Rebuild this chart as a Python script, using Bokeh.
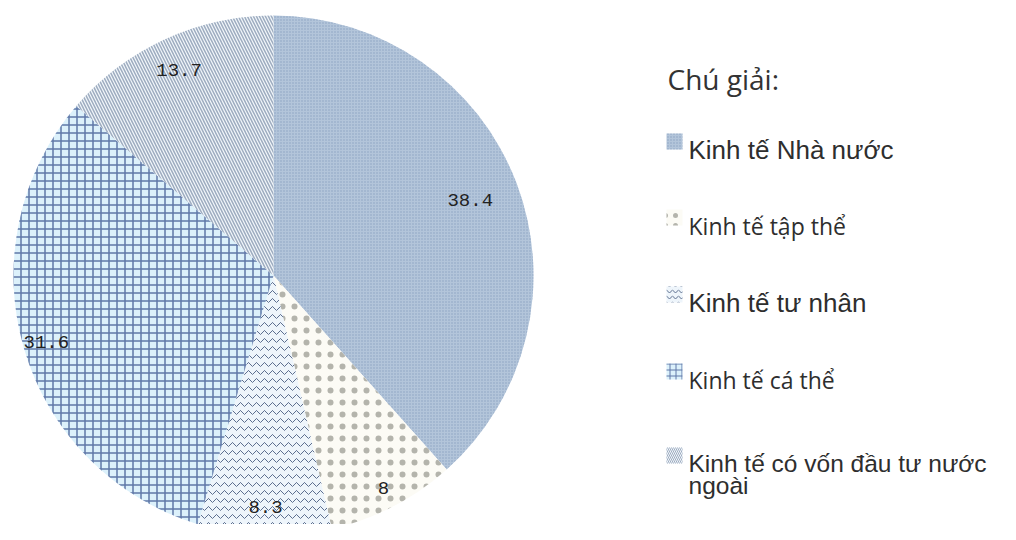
import math
from bokeh.plotting import figure
from bokeh.models import Range1d
from bokeh.core.properties import value
from bokeh.embed import file_html
from bokeh.resources import INLINE

# ---- data ----
categories = ["Kinh tế Nhà nước", "Kinh tế tập thể", "Kinh tế tư nhân",
              "Kinh tế cá thể", "Kinh tế có vốn  đầu tư nước ngoài"]
shares = [38.4, 8, 8.3, 31.6, 13.7]
share_labels = ["38.4", "8", "8.3", "31.6", "13.7"]
legend_title = "Chú giải:"
legend_lines = [["Kinh tế Nhà nước"], ["Kinh tế tập thể"], ["Kinh tế tư nhân"],
                ["Kinh tế cá thể"], ["Kinh tế có vốn  đầu tư nước", "ngoài"]]

# ---- styles ----
fills = ["#b3c5da", "#fcfbf5", "#eef5fb", "#dcf1fb", "#f2f6fa"]
hatches = ["dot", "dot", "horizontal_wave", "cross", "left_diagonal_line"]
hatch_colors = ["#8ba3c1", "#b4b4ac", "#5d6f8f", "#6078a8", "#9dacc0"]
hatch_scales = [3, 12, 8, 8, 6]
hatch_weights = [1.2, 0.5, 1, 1.5, 1.5]
label_r = [0.81, 0.92, 0.89, 0.91, 0.87]

W, H = 1000, 524
p = figure(width=W, height=H, output_backend="svg", toolbar_location=None,
           x_range=Range1d(0, W), y_range=Range1d(540 - H, 540),
           min_border=0, outline_line_color=None)
p.axis.visible = False
p.grid.visible = False
p.background_fill_color = "white"

cx, cy, r = 273, 540 - 275, 260
total = sum(shares)
cum = 0.0
for i, v in enumerate(shares):
    a0 = math.pi / 2 - 2 * math.pi * cum / total
    a1 = math.pi / 2 - 2 * math.pi * (cum + v) / total
    p.wedge(x=cx, y=cy, radius=r, start_angle=a0, end_angle=a1, direction="clock",
            fill_color=fills[i], line_color=None,
            hatch_pattern=hatches[i], hatch_color=hatch_colors[i],
            hatch_scale=hatch_scales[i], hatch_weight=hatch_weights[i])
    mid = (a0 + a1) / 2
    p.text(x=[cx + label_r[i] * r * math.cos(mid)], y=[cy + label_r[i] * r * math.sin(mid)],
           text=[share_labels[i]], text_align="center", text_baseline="middle",
           text_font=value("Liberation Mono"), text_font_size="19px", text_color="#222222")
    cum += v

# ---- legend ----
p.text(x=[667], y=[540 - 78], text=[legend_title], text_font=value("Open Sans"),
       text_font_size="28px", text_color="#333333", text_baseline="alphabetic")
baselines = [149, 225, 302, 379, 463]
sizes = ["26px", "23px", "26px", "23px", "24.5px"]
fonts = ["Liberation Sans", "Open Sans", "Liberation Sans", "Open Sans", "Liberation Sans"]
for i, lines in enumerate(legend_lines):
    b = baselines[i]
    p.rect(x=[674], y=[540 - (b - 8)], width=16, height=16, fill_color=fills[i],
           line_color=None, hatch_pattern=hatches[i], hatch_color=hatch_colors[i],
           hatch_scale=max(3, hatch_scales[i] - 2), hatch_weight=1)
    for j, t in enumerate(lines):
        p.text(x=[688], y=[540 - (b + 22 * j)], text=[t], text_font=value(fonts[i]),
               text_font_size=sizes[i], text_color="#2e2e2e", text_baseline="alphabetic")

open("out.html", "w").write(file_html(p, INLINE))
